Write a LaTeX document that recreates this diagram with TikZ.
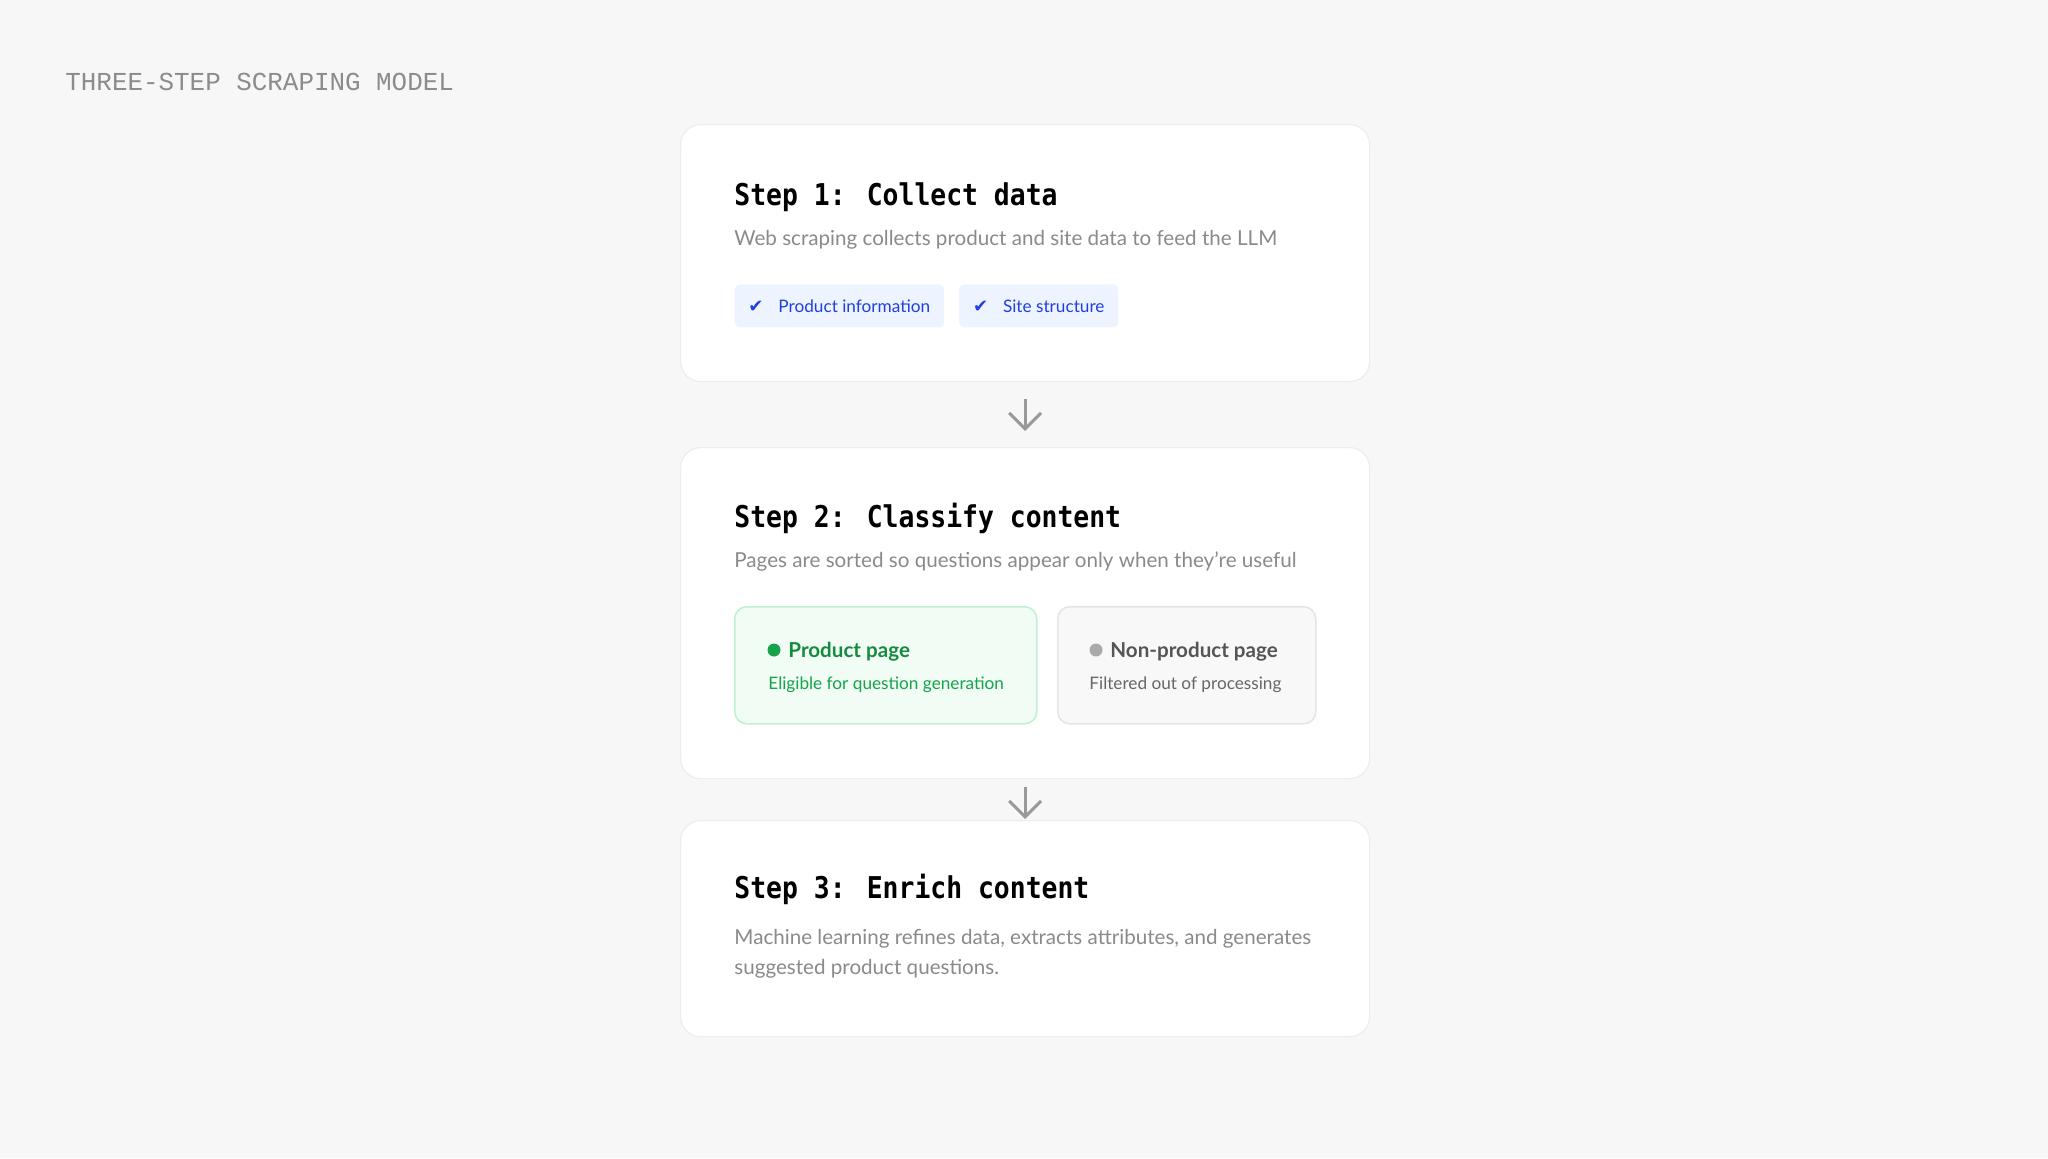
\documentclass[tikz,border=0pt]{standalone}
\usepackage{fontspec}
\setmainfont{Lato}
\newfontfamily\headfont[FakeStretch=0.88]{DejaVu Sans Mono}
\newfontfamily\labelfont{Liberation Mono}
\newfontfamily\symfont{DejaVu Sans}
\usetikzlibrary{positioning,arrows.meta}

\definecolor{bg}{HTML}{F7F7F7}
\definecolor{cardline}{HTML}{EDEDED}
\definecolor{labelgray}{HTML}{8C8C8C}
\definecolor{blurbgray}{HTML}{8A8A8A}
\definecolor{chipfill}{HTML}{EEF4FF}
\definecolor{chipblue}{HTML}{1F3FE0}
\definecolor{greenfill}{HTML}{F0FCF4}
\definecolor{greenline}{HTML}{BDF1D0}
\definecolor{greendot}{HTML}{16A34A}
\definecolor{greentext}{HTML}{168A3E}
\definecolor{greysub}{HTML}{666666}
\definecolor{greyfill}{HTML}{F8F8F8}
\definecolor{greyline}{HTML}{E4E4E4}
\definecolor{greydot}{HTML}{AAAAAA}
\definecolor{greytext}{HTML}{555555}
\definecolor{arrowgray}{HTML}{999999}

\tikzset{
  card/.style={draw=cardline, fill=white, rounded corners=10pt, line width=0.6pt,
    inner sep=0pt, minimum width=344.5pt, anchor=north west},
  heading/.style={anchor=base west, inner sep=0pt,
    font=\headfont\bfseries\fontsize{15}{18}\selectfont},
  blurb/.style={anchor=base west, inner sep=0pt, text=blurbgray,
    font=\fontsize{10.3}{15}\selectfont},
  chip/.style={fill=chipfill, rounded corners=3pt, inner xsep=7pt, inner ysep=0pt,
    minimum height=21.5pt, text=chipblue, font=\fontsize{8.6}{10}\selectfont},
  pagebox/.style={rounded corners=6pt, line width=0.75pt, minimum height=58.5pt,
    inner sep=0pt, anchor=north west},
  dot/.style={circle, inner sep=0pt, minimum size=6.5pt},
  boxtitle/.style={anchor=base west, inner sep=0pt, font=\bfseries\fontsize{10.3}{12}\selectfont},
  boxsub/.style={anchor=base west, inner sep=0pt, font=\fontsize{8.6}{10}\selectfont},
  flow/.style={draw=arrowgray, line width=1.5pt, -{Straight Barb[length=8pt, width=16pt]}}
}

\begin{document}
\begin{tikzpicture}[x=0.5pt, y=-0.5pt]
  \fill[bg] (0,0) rectangle (2048,1158);
  \useasboundingbox (0,0) rectangle (2048,1158);

  \node[anchor=base west, inner sep=0pt, text=labelgray,
    font=\labelfont\fontsize{12.95}{14}\selectfont] (label) at (65,90) {THREE-STEP SCRAPING MODEL};

  % cards
  \node[card, minimum height=128.5pt] (card1) at (680,124) {};
  \node[card, minimum height=165.5pt] (card2) at (680,447) {};
  \node[card, minimum height=108pt] (card3) at (680,820) {};

  % step 1
  \node[heading] (head1) at (734,205) {Step 1: Collect data};
  \node[blurb] (text1) at (734,245) {Web scraping collects product and site data to feed the LLM};
  \node[chip, anchor=north west] (chip1) at (734,284)
    {{\symfont\fontsize{9}{10}\selectfont ✔}\hspace{7.5pt}Product information};
  \node[chip, right=7pt of chip1] (chip2)
    {{\symfont\fontsize{9}{10}\selectfont ✔}\hspace{7.5pt}Site structure};

  % step 2
  \node[heading] (head2) at (734,527) {Step 2: Classify content};
  \node[blurb] (text2) at (734,567) {Pages are sorted so questions appear only when they’re useful};
  \node[pagebox, draw=greenline, fill=greenfill, minimum width=151pt] (prodbox) at (734,606) {};
  \node[pagebox, draw=greyline, fill=greyfill, minimum width=129pt] (otherbox) at (1057,606) {};
  \node[dot, fill=greendot] (proddot) at (774,650) {};
  \node[boxtitle, text=greentext] (prodtitle) at (788,657) {Product page};
  \node[boxsub, text=greendot] (prodsub) at (768,689) {Eligible for question generation};
  \node[dot, fill=greydot] (otherdot) at (1096,650) {};
  \node[boxtitle, text=greytext] (othertitle) at (1110,657) {Non-product page};
  \node[boxsub, text=greysub] (othersub) at (1089,689) {Filtered out of processing};

  % step 3
  \node[heading] (head3) at (734,898) {Step 3: Enrich content};
  \node[blurb, align=left, anchor=north west] (text3) at (734,929)
    {Machine learning refines data, extracts attributes, and generates\\suggested product questions.};

  % arrows
  \draw[flow, shorten <=8.5pt, shorten >=8pt] (card1.south) -- (card2.north);
  \draw[flow, shorten <=4pt, shorten >=0.5pt] (card2.south) -- (card3.north);
\end{tikzpicture}
\end{document}
